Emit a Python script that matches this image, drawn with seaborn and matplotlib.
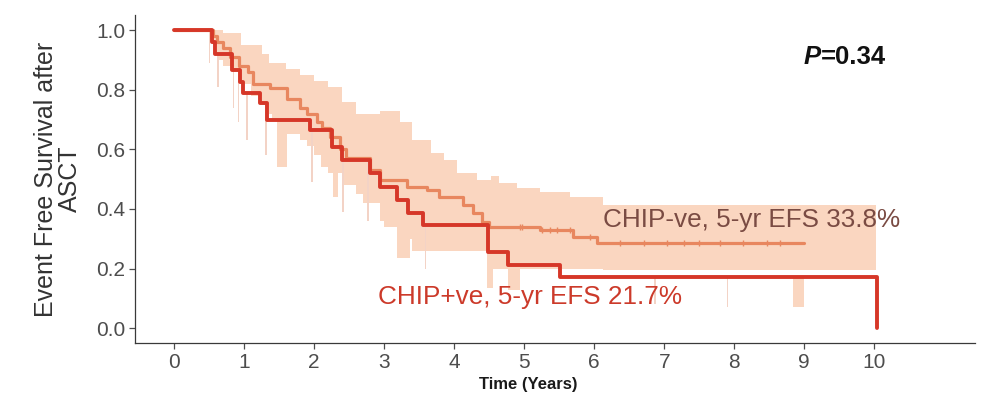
import numpy as np
import pandas as pd
import matplotlib
matplotlib.use("Agg")
import matplotlib.pyplot as plt
import seaborn as sns

# ---------------- data ----------------
# CHIP+ve Kaplan-Meier step curve (time in years, survival after the step)
pos_time = [0, 0.54, 0.59, 0.83, 0.94, 0.99, 1.23, 1.33, 1.94, 2.26, 2.40,
            2.80, 2.94, 3.19, 3.34, 3.56, 4.49, 4.77, 5.51, 10.04]
pos_surv = [1.0, 0.96, 0.92, 0.866, 0.825, 0.79, 0.755, 0.698, 0.664, 0.607, 0.564,
            0.52, 0.473, 0.43, 0.386, 0.346, 0.255, 0.211, 0.171, 0.0]

# CHIP-ve Kaplan-Meier step curve
neg_time = [0, 0.55, 0.62, 0.70, 0.80, 0.92, 1.06, 1.13, 1.37, 1.61, 1.80, 1.90,
            2.04, 2.11, 2.23, 2.37, 2.45, 2.80, 2.94, 3.33, 3.61, 3.79, 4.13,
            4.27, 4.40, 4.50, 5.23, 5.70, 6.04, 8.99]
neg_surv = [1.0, 0.98, 0.96, 0.94, 0.91, 0.88, 0.86, 0.82, 0.805, 0.77, 0.74, 0.72,
            0.69, 0.67, 0.64, 0.60, 0.57, 0.53, 0.497, 0.473, 0.463, 0.44, 0.413,
            0.386, 0.356, 0.339, 0.329, 0.305, 0.285, 0.285]

# censoring marks on the CHIP-ve curve
neg_censor = [4.94, 4.97, 5.26, 5.37, 5.47, 5.66, 5.94, 6.37, 6.71, 7.04, 7.28,
              7.49, 7.80, 8.13, 8.47, 8.66]

# confidence band (step ribbon)
band_time = [0.51, 0.55, 0.62, 0.70, 0.85, 0.95, 1.10, 1.25, 1.35, 1.40, 1.60,
             1.80, 1.90, 2.00, 2.10, 2.20, 2.40, 2.60, 2.70, 2.94, 3.00, 3.20,
             3.23, 3.40, 3.67, 3.86, 4.04, 4.33, 4.50, 4.53, 4.64, 4.90, 5.23,
             5.66, 6.13, 10.02]
band_hi = [1.0, 1.0, 1.0, 0.99, 0.99, 0.95, 0.95, 0.92, 0.89, 0.89, 0.87,
           0.85, 0.85, 0.83, 0.83, 0.81, 0.76, 0.72, 0.72, 0.73, 0.73, 0.73,
           0.69, 0.63, 0.587, 0.564, 0.52, 0.497, 0.497, 0.51, 0.487, 0.47, 0.456,
           0.44, 0.413, 0.413]
band_lo = [0.97, 0.95, 0.90, 0.88, 0.86, 0.82, 0.78, 0.75, 0.72, 0.70, 0.65,
           0.63, 0.61, 0.58, 0.54, 0.52, 0.48, 0.45, 0.42, 0.36, 0.34, 0.30,
           0.30, 0.26, 0.26, 0.26, 0.26, 0.26, 0.20, 0.20, 0.20, 0.20, 0.20,
           0.20, 0.195, 0.195]

# narrow lower-bound spikes of the CHIP+ve interval
spike_start = [0.50, 0.62, 0.84, 0.91, 1.03, 1.30, 1.47, 1.96, 2.27, 2.40, 2.76,
               3.19, 3.58, 4.47, 4.77, 6.86, 7.89, 8.84]
spike_end   = [0.52, 0.64, 0.86, 0.93, 1.05, 1.32, 1.61, 1.98, 2.34, 2.42, 2.78,
               3.37, 3.60, 4.56, 4.94, 6.88, 7.91, 8.99]
spike_lo    = [0.89, 0.81, 0.74, 0.69, 0.63, 0.58, 0.54, 0.49, 0.44, 0.39, 0.36,
               0.235, 0.20, 0.134, 0.128, 0.08, 0.07, 0.07]

x_ticks = [0, 1, 2, 3, 4, 5, 6, 7, 8, 9, 10]
y_ticks = [0.0, 0.2, 0.4, 0.6, 0.8, 1.0]

label_neg = "CHIP-ve, 5-yr EFS 33.8%"
label_pos = "CHIP+ve, 5-yr EFS 21.7%"
p_label = "P"
p_value = "=0.34"

# ---------------- style ----------------
sns.set_theme(style="ticks")
plt.rcParams['font.family'] = ['Liberation Sans', 'DejaVu Sans']

RED = "#D63728"
ORANGE = "#E8875F"
BAND = "#FAD6C0"
SPIKE = "#F3D3C6"

fig = plt.figure(figsize=(9.86, 3.98), dpi=100)
ax = fig.add_axes([0.137, 0.138, 0.852, 0.824])

# band
ax.fill_between(band_time, band_lo, band_hi, step="post", color=BAND,
                linewidth=0, zorder=1)
# spikes
for s0, s1, lo in zip(spike_start, spike_end, spike_lo):
    idx = np.searchsorted(pos_time, s0, side="right") - 1
    top = pos_surv[max(idx, 0)]
    ax.fill_between([s0, s1], [lo, lo], [top, top], color=SPIKE if s1 - s0 < 0.05 else BAND,
                    linewidth=0, zorder=1)

df = pd.concat([
    pd.DataFrame({"t": neg_time, "s": neg_surv, "group": "CHIP-ve"}),
    pd.DataFrame({"t": pos_time + [pos_time[-1]], "s": pos_surv + [pos_surv[-1]], "group": "CHIP+ve"}),
], ignore_index=True)

sns.lineplot(data=df[df.group == "CHIP-ve"], x="t", y="s", color=ORANGE,
             drawstyle="steps-post", estimator=None, sort=False,
             linewidth=2.3, ax=ax, zorder=3, legend=False)
sns.lineplot(data=df[df.group == "CHIP+ve"], x="t", y="s", color=RED,
             drawstyle="steps-post", estimator=None, sort=False,
             linewidth=2.8, ax=ax, zorder=4, legend=False)

# censor ticks on CHIP-ve
cens_y = [neg_surv[np.searchsorted(neg_time, c, side="right") - 1] for c in neg_censor]
ax.plot(neg_censor, cens_y, linestyle="none", marker="|", markersize=5,
        markeredgewidth=1.0, color=ORANGE, zorder=3)

# axes
ax.set_xlim(-0.557, 11.44)
ax.set_ylim(-0.05, 1.05)
ax.set_xticks(x_ticks)
ax.set_yticks(y_ticks)
ax.set_yticklabels([f"{v:.1f}" for v in y_ticks])
sns.despine(ax=ax)
for sp in ("left", "bottom"):
    ax.spines[sp].set_color("#3A3A3A")
    ax.spines[sp].set_linewidth(0.9)
ax.tick_params(axis="both", colors="#4D4D4D", labelsize=15, length=4, width=0.9,
               labelcolor="#4D4D4D", pad=3)

ax.set_xlabel("Time (Years)", fontsize=12, fontweight="bold", color="#1A1A1A")
ax.xaxis.set_label_coords(0.468, -0.104)
ax.set_ylabel("Event Free Survival after\nASCT", fontsize=18, color="#333333",
              multialignment="center", linespacing=1.0)
ax.yaxis.set_label_coords(-0.063, 0.5)

# annotations
ax.text(6.13, 0.362, label_neg, fontsize=18.8, color="#7A4B43", va="center", ha="left", zorder=5)
ax.text(2.91, 0.104, label_pos, fontsize=18.8, color="#CC3A2A", va="center", ha="left", zorder=5)
ax.text(9.24, 0.909, p_label, fontsize=18.5, fontweight="bold", fontstyle="italic",
        color="#111111", ha="right", va="center")
ax.text(9.24, 0.909, p_value, fontsize=18.5, fontweight="bold",
        color="#111111", ha="left", va="center")

fig.savefig("out.png", dpi=100, facecolor="white")
